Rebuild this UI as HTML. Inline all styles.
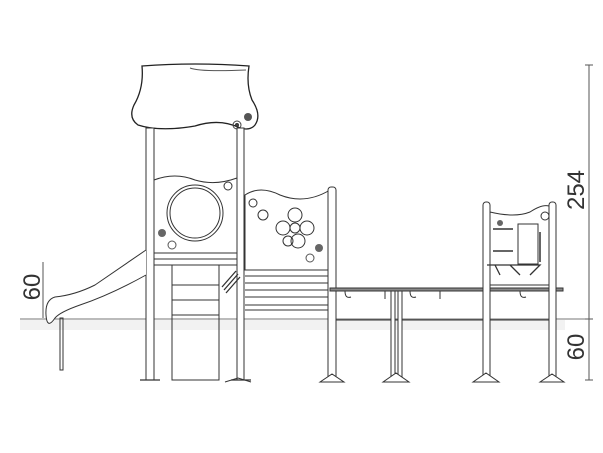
<!DOCTYPE html>
<html><head><meta charset="utf-8"><style>html,body{margin:0;padding:0;background:#fff}svg{display:block}</style></head><body>
<svg width="603" height="453" viewBox="0 0 603 453" xmlns="http://www.w3.org/2000/svg" font-family="Liberation Sans, sans-serif">
<g fill="none" stroke="#333" stroke-width="1">
<!-- ground -->
<rect x="20" y="320" width="545" height="10" fill="#f2f2f2" stroke="none"/>
<line x1="20" y1="319" x2="590" y2="319" stroke="#777"/>
<!-- roof -->
<path d="M142,66 Q195,62 249,66 Q246,85 252,100 Q262,115 255,125 Q250,131 240,128 Q220,118 195,126 Q160,132 138,125 Q128,118 134,105 Q144,88 142,66 Z" fill="#fff" stroke="#222" stroke-width="1.3"/>
<path d="M190,68 Q200,72 246,70" stroke="#555"/>
<circle cx="248" cy="117" r="4" fill="#555" stroke="none"/>
<circle cx="237" cy="125" r="4" stroke="#444"/>
<circle cx="237" cy="125" r="1.5" fill="#444"/>
<!-- main posts -->
<rect x="146" y="128" width="8" height="252" fill="#fff"/>
<rect x="237" y="128" width="7" height="252" fill="#fff"/>
<path d="M140,380 h20 M231,380 h20" stroke-width="1.3"/>
<!-- tower panel -->
<path d="M154,180 Q175,172 195,180 Q215,186 237,178 V253 H154 Z" fill="#fff"/>
<circle cx="195" cy="213" r="28"/><circle cx="195" cy="213" r="25"/>
<circle cx="228" cy="186" r="4"/>
<circle cx="162" cy="233" r="4" fill="#666" stroke="none"/>
<circle cx="172" cy="245" r="4" stroke="#555"/>
<rect x="154" y="253" width="83" height="12" fill="#fff"/>
<line x1="154" y1="259" x2="237" y2="259"/>
<!-- ladder -->
<rect x="172" y="265" width="47" height="115"/>
<line x1="172" y1="300" x2="219" y2="300"/><line x1="172" y1="315" x2="219" y2="315"/>
<line x1="172" y1="285" x2="219" y2="285"/>
<path d="M224,290 l14,-16 M226,293 l14,-16 M222,287 l14,-16" stroke-width="1.3"/>
<!-- slide -->
<path d="M146,250 L95,285 Q75,295 55,297 Q45,300 46,315 Q47,330 55,318 Q60,312 80,305 Q110,295 146,275" fill="#fff"/>
<rect x="60" y="318" width="3" height="52"/>
<path d="M43,262 V318" stroke="#555"/>
<!-- second panel -->
<path d="M245,195 Q260,185 280,195 Q305,205 330,190 V270 H245 Z" fill="#fff"/>
<circle cx="253" cy="203" r="4"/>
<circle cx="295" cy="215" r="7"/><circle cx="307" cy="228" r="7"/><circle cx="283" cy="228" r="7"/>
<circle cx="295" cy="228" r="5"/><circle cx="298" cy="241" r="7"/><circle cx="288" cy="241" r="5"/>
<circle cx="263" cy="215" r="5"/>
<circle cx="319" cy="248" r="4" fill="#666" stroke="none"/>
<circle cx="310" cy="258" r="4" stroke="#555"/>
<path d="M245,270 H330 M245,276 H330 M245,283 H330 M245,290 H330 M245,297 H330 M245,305 H330 M245,310 H330"/>
<rect x="328" y="187" width="8" height="193" rx="3" fill="#fff"/>
<!-- bridge -->
<rect x="330" y="288" width="233" height="3" fill="#888" stroke="#333"/>
<line x1="336" y1="320" x2="555" y2="320"/>
<rect x="391" y="291" width="4" height="89" fill="#fff"/><rect x="398" y="291" width="4" height="89" fill="#fff"/>
<path d="M345,291 q0,8 6,6 M385,291 v8 M410,291 q0,8 6,6 M440,291 v8 M520,291 q0,8 6,6"/>
<!-- right tower -->
<rect x="483" y="202" width="7" height="178" rx="3" fill="#fff"/>
<rect x="549" y="202" width="7" height="178" rx="3" fill="#fff"/>
<path d="M490,212 Q515,218 530,212 Q542,204 549,206 V285 H490 Z" fill="#fff"/>
<rect x="518" y="224" width="20" height="40"/>
<path d="M493,229 h20 M493,251 h20 M540,232 v30" stroke-width="1.5"/>
<circle cx="500" cy="223" r="3" fill="#666" stroke="none"/>
<circle cx="545" cy="216" r="4"/>
<path d="M487,265 H540 l-10,10 M495,265 l5,10 M510,265 l10,10" stroke-width="1.3"/>
<!-- feet -->
<path d="M320,382 l12,-8 l12,8 Z M383,382 l13,-9 l13,9 Z M473,382 l13,-9 l13,9 Z M540,382 l12,-8 l12,8 Z" fill="#fff"/>
<path d="M225,382 l13,-4 l13,4"/>
<!-- dimensions -->
<line x1="589" y1="65" x2="589" y2="380" stroke="#555"/>
<path d="M585,319 h8 M585,380 h8 M585,65 h8" stroke="#555"/>
</g>
<g fill="#333" font-size="24">
<text transform="translate(584,190) rotate(-90)" text-anchor="middle">254</text>
<text transform="translate(584,347) rotate(-90)" text-anchor="middle">60</text>
<text transform="translate(40,287) rotate(-90)" text-anchor="middle">60</text>
</g>
</svg>
</body></html>
